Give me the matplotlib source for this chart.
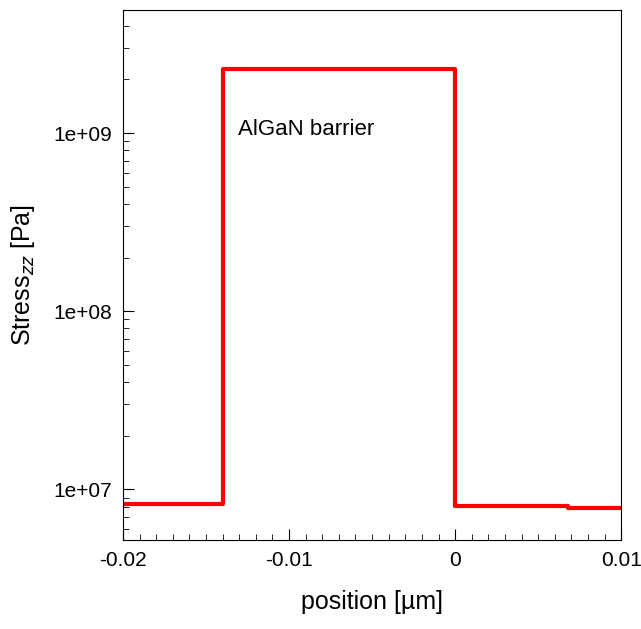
import numpy as np
import matplotlib.pyplot as plt
from matplotlib.ticker import MultipleLocator, LogLocator, FixedFormatter, FixedLocator

plt.rcParams['font.family'] = ['Liberation Sans', 'DejaVu Sans']

# step profile of stress along position
position = [-0.02, -0.014, -0.014, 0.0, 0.0, 0.0068, 0.0068, 0.01]
stress = [8.3e6, 8.3e6, 2.3e9, 2.3e9, 8.1e6, 8.1e6, 7.9e6, 7.9e6]

fig = plt.figure(figsize=(6.41, 6.29), dpi=100)
ax = fig.add_axes([0.192, 0.1415, 0.777, 0.8425])
ax.plot(position, stress, color='red', lw=3)
ax.set_yscale('log')
ax.set_xlim(-0.02, 0.01)
ax.set_ylim(5.2e6, 4.9e9)

ax.xaxis.set_major_locator(FixedLocator([-0.02, -0.01, 0, 0.01]))
ax.xaxis.set_major_formatter(FixedFormatter(['-0.02', '-0.01', '0', '0.01']))
ax.xaxis.set_minor_locator(MultipleLocator(0.001))
ax.yaxis.set_major_locator(FixedLocator([1e7, 1e8, 1e9]))
ax.yaxis.set_major_formatter(FixedFormatter(['1e+07', '1e+08', '1e+09']))
ax.yaxis.set_minor_locator(LogLocator(base=10, subs=np.arange(2, 10)))
ax.yaxis.set_minor_formatter(FixedFormatter([]))

ax.tick_params(which='both', direction='in', labelsize=15)
ax.tick_params(which='major', length=8, pad=8)
ax.tick_params(which='minor', length=4)

ax.text(-0.0131, 1.05e9, 'AlGaN barrier', fontsize=16, va='center')
ax.set_xlabel('position [µm]', fontsize=18, labelpad=14)
ax.set_ylabel('Stress$_{zz}$ [Pa]', fontsize=18, labelpad=12)

fig.savefig('out.png', dpi=100)
